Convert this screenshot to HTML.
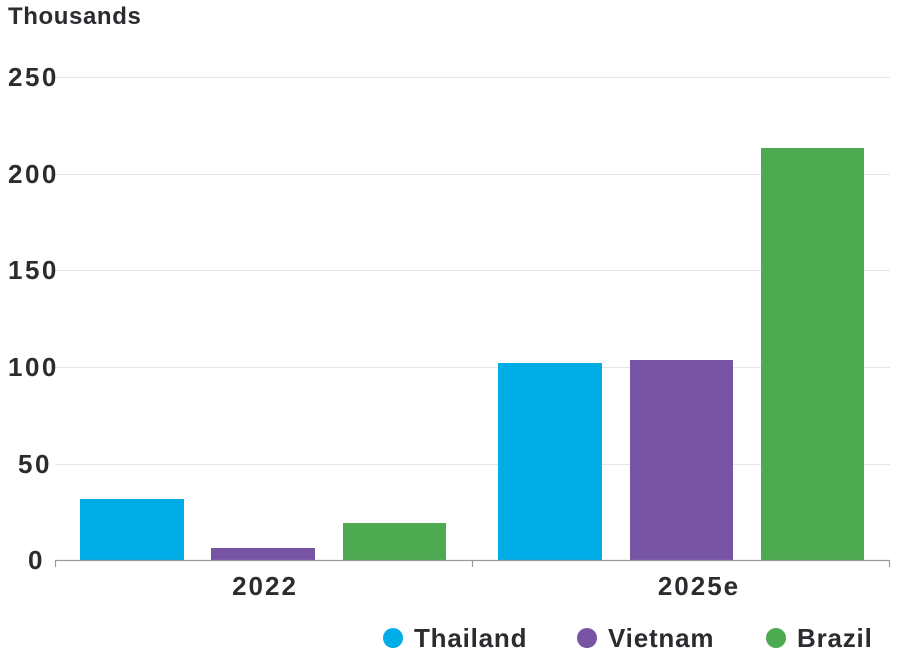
<!DOCTYPE html>
<html><head><meta charset="utf-8"><style>
body{margin:0;background:#fff;}
svg text{font-family:"Liberation Sans",sans-serif;fill:#2b2b30;}
</style></head><body>
<svg width="897" height="660" viewBox="0 0 897 660" xmlns="http://www.w3.org/2000/svg">
<text x="8" y="24" font-size="24" font-weight="bold" letter-spacing="0.6">Thousands</text>
<g stroke="#e6e6e6" stroke-width="1">
<line x1="55" y1="77.5" x2="890" y2="77.5"/>
<line x1="55" y1="174.5" x2="890" y2="174.5"/>
<line x1="55" y1="270.5" x2="890" y2="270.5"/>
<line x1="55" y1="367.5" x2="890" y2="367.5"/>
<line x1="55" y1="464.5" x2="890" y2="464.5"/>
</g>
<g font-size="26" font-weight="bold" letter-spacing="2.5">
<text x="8" y="86">250</text>
<text x="8" y="183">200</text>
<text x="8" y="279">150</text>
<text x="8" y="376">100</text>
<text x="18" y="473">50</text>
<text x="28" y="569">0</text>
</g>
<rect x="80" y="499" width="104" height="61" fill="#00ADE6"/>
<rect x="211" y="548" width="104" height="12" fill="#7754A4"/>
<rect x="343" y="523" width="103" height="37" fill="#4DAA50"/>
<rect x="498" y="363" width="104" height="197" fill="#00ADE6"/>
<rect x="630" y="360" width="103" height="200" fill="#7754A4"/>
<rect x="761" y="148" width="103" height="412" fill="#4DAA50"/>
<g stroke="#9a9aa0" stroke-width="1.2">
<line x1="55" y1="560.5" x2="890" y2="560.5"/>
<line x1="55.5" y1="560" x2="55.5" y2="567"/>
<line x1="472.5" y1="560" x2="472.5" y2="567"/>
<line x1="889.5" y1="560" x2="889.5" y2="567"/>
</g>
<g font-size="26" font-weight="bold" text-anchor="middle" letter-spacing="2">
<text x="265" y="595">2022</text>
<text x="699" y="595">2025e</text>
</g>
<g font-size="26" font-weight="bold" letter-spacing="0.8">
<circle cx="393" cy="638" r="10" fill="#00ADE6"/>
<text x="414" y="647">Thailand</text>
<circle cx="587" cy="638" r="10" fill="#7754A4"/>
<text x="608" y="647">Vietnam</text>
<circle cx="776" cy="638" r="10" fill="#4DAA50"/>
<text x="797" y="647">Brazil</text>
</g>
</svg>
</body></html>
